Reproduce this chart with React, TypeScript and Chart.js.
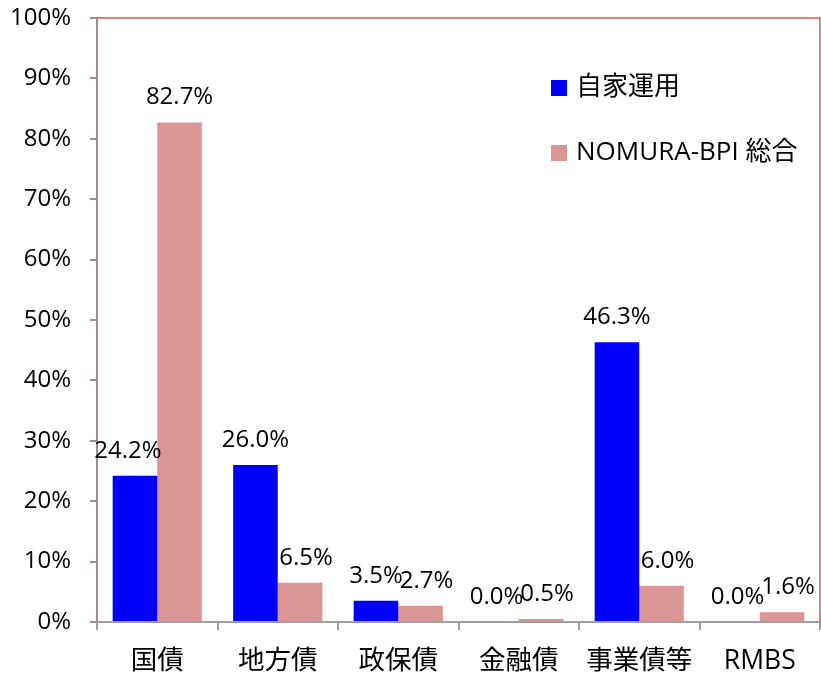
import React, { useEffect, useRef } from "react";
import { Chart, registerables } from "chart.js";

Chart.register(...registerables);

const categories = ["国債", "地方債", "政保債", "金融債", "事業債等", "RMBS"];
const seriesNames = ["自家運用", "NOMURA-BPI 総合"];
const ownValues = [24.2, 26.0, 3.5, 0.0, 46.3, 0.0];
const bpiValues = [82.7, 6.5, 2.7, 0.5, 6.0, 1.6];
const yTicks = [0, 10, 20, 30, 40, 50, 60, 70, 80, 90, 100];

const BLUE = "#0000FF";
const PINK = "#D99694";
const FONT = "'Open Sans', 'Noto Sans CJK JP', sans-serif";

const labelPlugin = {
  id: "valueLabels",
  afterDatasetsDraw(chart: any) {
    const ctx = chart.ctx;
    ctx.save();
    ctx.font = `24px ${FONT}`;
    ctx.fillStyle = "#000";
    ctx.textAlign = "center";
    ctx.textBaseline = "middle";
    chart.data.datasets.forEach((ds: any, di: number) => {
      const meta = chart.getDatasetMeta(di);
      meta.data.forEach((el: any, i: number) => {
        let dx = 0;
        if (di === 1 && i > 0) dx = 6;
        if (di === 0 && i === 0) dx = -7;
        ctx.fillText(ds.data[i].toFixed(1) + "%", el.x + dx, el.y - 25);
      });
    });
    ctx.restore();
  },
};

const framePlugin = {
  id: "frame",
  afterDraw(chart: any) {
    const { ctx, chartArea } = chart;
    ctx.save();
    ctx.strokeStyle = "#D05A5A";
    ctx.lineWidth = 1.5;
    ctx.beginPath();
    ctx.moveTo(chartArea.left, chartArea.top);
    ctx.lineTo(chartArea.right, chartArea.top);
    ctx.lineTo(chartArea.right, chartArea.bottom);
    ctx.stroke();
    // legend
    ctx.font = `26px ${FONT}`;
    ctx.textBaseline = "middle";
    ctx.textAlign = "left";
    const items = [
      { label: seriesNames[0], color: BLUE, y: 88 },
      { label: seriesNames[1], color: PINK, y: 153 },
    ];
    items.forEach((it) => {
      ctx.fillStyle = it.color;
      ctx.fillRect(551, it.y - 8, 16, 16);
      ctx.fillStyle = "#000";
      ctx.fillText(it.label, 576, it.y);
    });
    ctx.restore();
  },
};

export default function App() {
  const ref = useRef<HTMLCanvasElement>(null);
  useEffect(() => {
    document.body.style.margin = "0";
    const chart = new Chart(ref.current!, {
      type: "bar",
      data: {
        labels: categories,
        datasets: [
          { label: seriesNames[0], data: ownValues, backgroundColor: BLUE, categoryPercentage: 0.74, barPercentage: 1 },
          { label: seriesNames[1], data: bpiValues, backgroundColor: PINK, categoryPercentage: 0.74, barPercentage: 1 },
        ],
      },
      options: {
        animation: false,
        responsive: false,
        layout: { padding: { top: 18, right: 1, left: 0, bottom: 0 } },
        plugins: { legend: { display: false }, tooltip: { enabled: false } },
        scales: {
          x: {
            offset: true,
            grid: { display: true, drawOnChartArea: false, offset: true, tickLength: 8, color: "#A0A0A0", lineWidth: 2 },
            border: { display: true, color: "#A0A0A0", width: 2 },
            ticks: { color: "#000", font: { family: FONT, size: 26.5 }, padding: 16, maxRotation: 0 },
            afterFit: (s: any) => { s.height = 51; s.paddingLeft = 0; s.paddingRight = 0; },
          },
          y: {
            min: 0,
            max: 100,
            afterBuildTicks: (s: any) => { s.ticks = yTicks.map((v) => ({ value: v })); },
            grid: { display: true, drawOnChartArea: false, tickLength: 7, color: "#A08A8A", lineWidth: 2 },
            border: { display: true, color: "#A08A8A", width: 2 },
            ticks: { color: "#000", font: { family: FONT, size: 24 }, padding: 19, callback: (v: any) => v + "%" },
            afterFit: (s: any) => { s.width = 97; s.paddingTop = 0; s.paddingBottom = 0; },
          },
        },
      },
      plugins: [labelPlugin, framePlugin],
    });
    return () => chart.destroy();
  }, []);
  return (
    <div style={{ width: 821, height: 673, background: "#fff" }}>
      <canvas ref={ref} width={821} height={673} />
    </div>
  );
}
